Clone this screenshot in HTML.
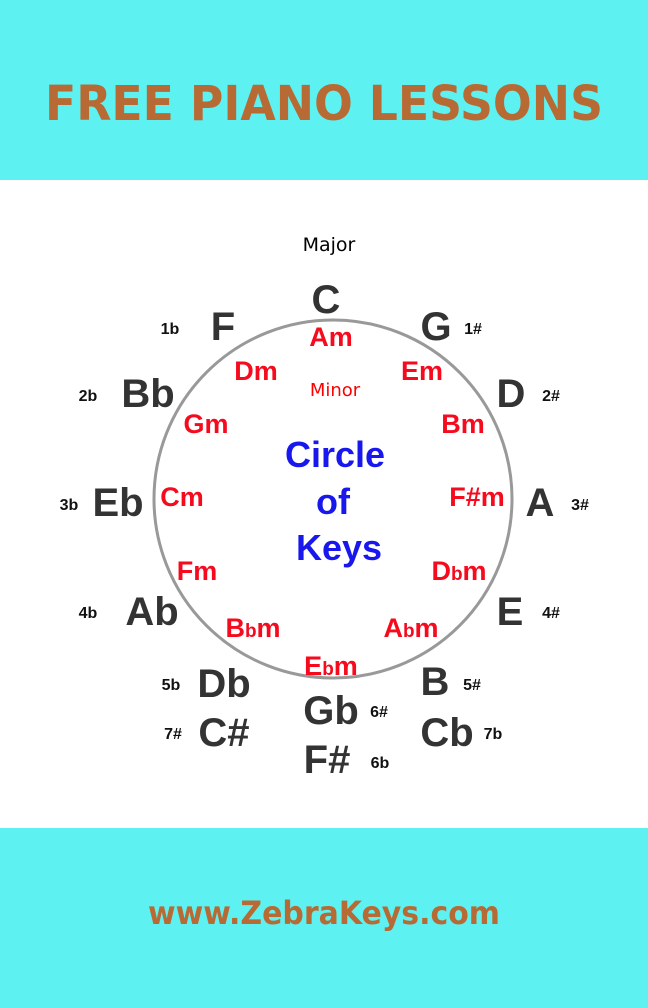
<!DOCTYPE html>
<html><head><meta charset="utf-8"><style>
html,body{margin:0;padding:0;background:#fff}
svg{display:block}
.M{font-family:"Liberation Sans",Arial,sans-serif;font-weight:bold;fill:#333;font-size:40px;text-anchor:middle}
.n{font-family:"Liberation Sans",Arial,sans-serif;font-weight:bold;fill:#111;font-size:16px;text-anchor:middle}
.m{font-family:"Liberation Sans",Arial,sans-serif;font-weight:bold;fill:#f50a1e;font-size:27px;text-anchor:middle}
.s{font-size:19px}
.c{font-family:"Liberation Sans",Arial,sans-serif;font-weight:bold;fill:#1818ee;font-size:36px;text-anchor:middle}
.h{font-family:"DejaVu Sans",sans-serif;font-weight:bold;fill:#b86a34;text-anchor:middle}
</style></head><body>
<svg width="648" height="1008" viewBox="0 0 648 1008" xmlns="http://www.w3.org/2000/svg">
<rect x="0" y="0" width="648" height="180" fill="#5df1f1"/>
<rect x="0" y="828" width="648" height="180" fill="#5df1f1"/>
<text class="h" x="324" y="120" font-size="48" textLength="558" lengthAdjust="spacingAndGlyphs">FREE PIANO LESSONS</text>
<text class="h" x="324" y="924" font-size="32" textLength="352" lengthAdjust="spacingAndGlyphs">www.ZebraKeys.com</text>

<circle cx="333" cy="499" r="179" fill="none" stroke="#999" stroke-width="3"/>

<text x="329" y="251" font-family="DejaVu Sans,sans-serif" font-size="19" text-anchor="middle" fill="#000">Major</text>
<text x="335" y="396" font-family="DejaVu Sans,sans-serif" font-size="18" text-anchor="middle" fill="#f00">Minor</text>

<text class="M" x="326" y="313">C</text>
<text class="M" x="223" y="340">F</text>
<text class="M" x="436" y="340">G</text>
<text class="M" x="148" y="407">Bb</text>
<text class="M" x="511" y="407">D</text>
<text class="M" x="118" y="516">Eb</text>
<text class="M" x="540" y="516">A</text>
<text class="M" x="152" y="625">Ab</text>
<text class="M" x="510" y="625">E</text>
<text class="M" x="224" y="697">Db</text>
<text class="M" x="435" y="695">B</text>
<text class="M" x="331" y="724">Gb</text>
<text class="M" x="224" y="746">C#</text>
<text class="M" x="447" y="746">Cb</text>
<text class="M" x="327" y="773">F#</text>

<text class="n" x="170" y="334">1b</text>
<text class="n" x="473" y="334">1#</text>
<text class="n" x="88" y="401">2b</text>
<text class="n" x="551" y="401">2#</text>
<text class="n" x="69" y="510">3b</text>
<text class="n" x="580" y="510">3#</text>
<text class="n" x="88" y="618">4b</text>
<text class="n" x="551" y="618">4#</text>
<text class="n" x="171" y="690">5b</text>
<text class="n" x="472" y="690">5#</text>
<text class="n" x="379" y="717">6#</text>
<text class="n" x="173" y="739">7#</text>
<text class="n" x="493" y="739">7b</text>
<text class="n" x="380" y="768">6b</text>

<text class="m" x="331" y="346">Am</text>
<text class="m" x="256" y="380">Dm</text>
<text class="m" x="422" y="380">Em</text>
<text class="m" x="206" y="433">Gm</text>
<text class="m" x="463" y="433">Bm</text>
<text class="m" x="182" y="506">Cm</text>
<text class="m" x="477" y="506">F#m</text>
<text class="m" x="197" y="580">Fm</text>
<text class="m" x="459" y="580">D<tspan class="s">b</tspan>m</text>
<text class="m" x="253" y="637">B<tspan class="s">b</tspan>m</text>
<text class="m" x="411" y="637">A<tspan class="s">b</tspan>m</text>
<text class="m" x="331" y="675">E<tspan class="s">b</tspan>m</text>

<text class="c" x="335" y="467">Circle</text>
<text class="c" x="333" y="514">of</text>
<text class="c" x="339" y="560">Keys</text>
</svg>
</body></html>
